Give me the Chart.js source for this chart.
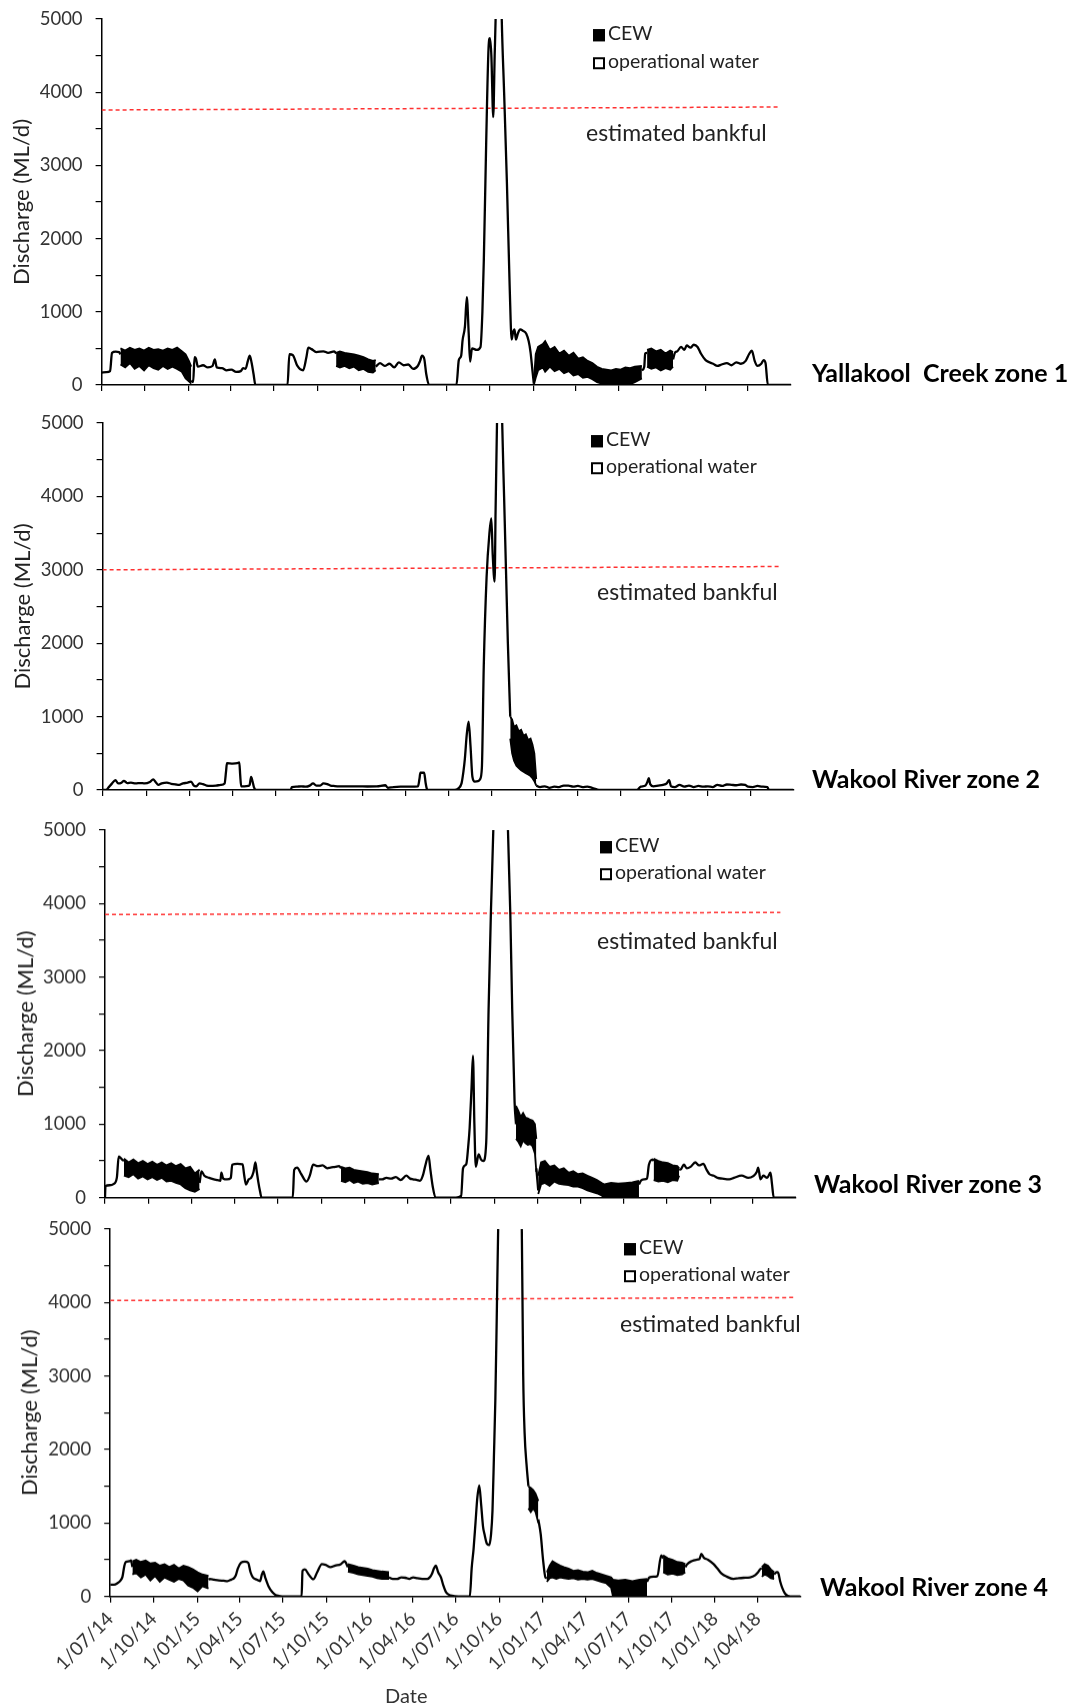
<!DOCTYPE html>
<html>
<head>
<meta charset="utf-8">
<script src="https://cdn.jsdelivr.net/npm/chart.js@4.4.1/dist/chart.umd.min.js"></script>
<style>
  html, body { margin: 0; padding: 0; background: #fff; }
  body { width: 1071px; height: 1706px; position: relative; overflow: hidden; font-family: Lato, 'Open Sans', sans-serif; color: #222; }
  .panel { position: absolute; left: 0; width: 1071px; }
  .txt { position: absolute; white-space: pre; line-height: 1; transform: translateY(-50%); }
  .zone { font-weight: bold; font-size: 25px; color: #000; }
  .bank { font-size: 23px; }
  .leg { font-size: 19.5px; }
  .date { font-size: 20px; color: #333; }
  .sq { display: inline-block; width: 12px; height: 12px; box-sizing: border-box; border: 2px solid #000; margin-right: 3px; vertical-align: -1px; }
  .sq.fill { background: #000; }
</style>
</head>
<body>
<script>
// x axis: days since 1/07/14, major tick every quarter
const quarterDays = [0, 92, 184, 274, 365, 457, 549, 640, 731, 823, 915, 1005, 1096, 1188, 1280, 1370];
const quarterLabels = ['1/07/14', '1/10/14', '1/01/15', '1/04/15', '1/07/15', '1/10/15', '1/01/16', '1/04/16',
  '1/07/16', '1/10/16', '1/01/17', '1/04/17', '1/07/17', '1/10/17', '1/01/18', '1/04/18'];
const zoneNames = ['Yallakool  Creek zone 1', 'Wakool River zone 2', 'Wakool River zone 3', 'Wakool River zone 4'];

// discharge line [day, ML/d]; null = inside a CEW band (drawn by the band)
const zone1Flow = [[0,170],[10,175],[18,190],[22,440],[30,455],[37,450],[40,420],[115,null],[190,60],[194,40],[197,380],[200,360],[204,250],[215,270],[225,240],[235,260],[240,350],[244,240],[255,230],[265,200],[275,210],[285,180],[295,190],[300,230],[305,220],[310,330],[314,400],[318,300],[322,150],[326,0],[394,0],[398,420],[405,410],[415,260],[427,200],[434,380],[438,510],[445,490],[455,450],[470,460],[480,440],[493,460],[497,430],[540,null],[581,250],[590,300],[600,260],[610,290],[620,240],[630,310],[640,270],[650,280],[660,220],[670,260],[675,330],[679,400],[684,350],[688,150],[694,0],[752,0],[757,340],[762,400],[765,610],[770,800],[774,1200],[778,700],[781,320],[785,500],[795,480],[803,520],[807,1000],[810,1700],[815,3300],[820,4600],[823,4740],[826,4500],[830,3660],[833,4500],[835,5000],[841,7500],[848,5000],[853,4000],[859,2750],[865,1300],[869,620],[872,720],[875,760],[878,620],[882,700],[887,760],[893,740],[900,700],[905,600],[909,450],[913,200],[916,20],[1030,null],[1145,200],[1150,250],[1152,430],[1156,440],[1185,null],[1211,350],[1215,440],[1220,460],[1228,520],[1235,480],[1240,540],[1248,510],[1255,550],[1263,520],[1270,430],[1280,340],[1288,310],[1296,290],[1305,260],[1314,280],[1325,300],[1335,270],[1345,310],[1355,290],[1365,330],[1372,420],[1378,470],[1384,330],[1390,260],[1398,290],[1403,340],[1407,300],[1412,0],[1461,0]];
const zone2Flow = [[0,0],[8,0],[12,30],[20,90],[27,135],[33,90],[40,100],[45,125],[52,95],[60,100],[70,90],[80,95],[89,90],[100,110],[107,145],[112,110],[118,70],[125,90],[136,100],[145,85],[155,75],[162,70],[170,90],[180,100],[187,115],[193,60],[198,50],[205,90],[212,80],[220,60],[227,55],[240,60],[250,70],[258,90],[261,250],[263,365],[275,360],[285,365],[289,375],[291,200],[293,50],[300,50],[308,55],[311,70],[314,180],[317,120],[320,40],[325,0],[398,0],[400,40],[410,45],[420,50],[430,45],[438,60],[445,90],[452,60],[460,60],[467,90],[475,80],[482,60],[489,55],[500,50],[520,50],[540,50],[560,48],[580,50],[598,65],[603,30],[615,40],[630,45],[650,45],[667,50],[670,150],[672,235],[680,235],[683,100],[686,10],[689,0],[744,0],[752,20],[759,90],[763,250],[766,420],[770,750],[774,930],[778,600],[782,180],[787,115],[794,120],[798,145],[802,300],[806,1680],[812,2900],[818,3500],[822,3700],[825,3200],[829,2840],[831,3800],[834,5000],[840,7000],[845,5000],[849,4000],[853,3000],[857,2000],[862,1000],[890,null],[917,60],[925,40],[935,50],[945,30],[955,45],[965,40],[975,60],[985,60],[995,45],[1005,55],[1015,40],[1025,45],[1035,30],[1045,10],[1050,0],[1130,0],[1138,45],[1148,60],[1152,110],[1155,160],[1158,80],[1165,50],[1175,60],[1185,70],[1193,90],[1198,135],[1202,50],[1210,40],[1220,70],[1230,45],[1240,60],[1250,40],[1260,55],[1270,45],[1280,50],[1290,40],[1300,70],[1310,55],[1320,75],[1330,70],[1340,65],[1350,75],[1359,70],[1365,45],[1375,40],[1385,55],[1395,45],[1406,40],[1409,0],[1461,0]];
const zone3Flow = [[0,0],[1,160],[10,170],[18,185],[25,270],[29,560],[33,540],[36,520],[40,500],[120,null],[200,200],[204,360],[210,300],[220,270],[230,250],[238,240],[244,230],[246,340],[250,260],[258,250],[266,270],[269,450],[280,460],[291,455],[294,320],[298,180],[304,250],[309,270],[314,350],[318,480],[321,350],[324,220],[328,80],[331,0],[397,0],[400,380],[406,410],[415,320],[426,220],[433,300],[440,450],[450,430],[460,440],[470,400],[477,410],[487,420],[495,430],[499,400],[540,null],[579,250],[586,250],[595,270],[605,260],[615,280],[625,240],[637,300],[645,260],[651,250],[660,240],[666,230],[672,300],[677,430],[684,570],[688,380],[693,150],[699,0],[742,0],[753,25],[757,400],[764,460],[768,700],[771,950],[775,1500],[778,1930],[781,1000],[784,420],[790,590],[795,520],[800,500],[806,750],[811,2550],[816,3900],[821,5000],[830,8000],[843,8000],[852,5000],[857,3850],[861,2550],[866,1300],[869,1000],[890,null],[912,400],[916,100],[1000,null],[1129,180],[1133,230],[1140,250],[1146,260],[1150,450],[1158,520],[1160,500],[1190,null],[1214,380],[1218,390],[1224,450],[1230,400],[1238,420],[1248,480],[1256,440],[1265,460],[1272,380],[1278,320],[1287,300],[1295,270],[1305,260],[1320,250],[1330,270],[1346,300],[1360,270],[1370,290],[1378,350],[1381,410],[1386,250],[1392,300],[1400,270],[1407,340],[1410,200],[1414,0],[1461,0]];
const zone4Flow = [[0,160],[8,160],[15,180],[22,220],[26,270],[30,420],[33,470],[40,480],[44,490],[47,400],[130,null],[208,230],[211,240],[220,230],[230,220],[240,215],[248,210],[256,230],[262,250],[266,290],[270,380],[277,460],[285,475],[292,460],[297,330],[302,260],[310,230],[317,210],[321,300],[324,340],[328,260],[335,140],[343,60],[350,20],[357,8],[370,0],[405,0],[407,350],[412,370],[420,300],[430,235],[438,330],[448,440],[456,430],[466,400],[476,420],[488,440],[496,480],[503,400],[550,null],[590,260],[598,240],[607,240],[616,260],[625,255],[633,240],[641,260],[650,250],[660,240],[671,240],[676,260],[681,310],[685,380],[689,420],[694,330],[700,260],[705,150],[711,55],[720,15],[729,5],[745,0],[761,0],[765,390],[769,650],[773,1000],[777,1350],[781,1510],[785,1250],[789,950],[792,850],[797,720],[802,700],[806,850],[809,1170],[812,1900],[815,2670],[818,3800],[821,5000],[846,9000],[871,5000],[874,3000],[877,2220],[881,1800],[885,1500],[895,null],[906,1050],[911,850],[916,500],[921,260],[924,250],[1000,null],[1136,200],[1141,260],[1150,270],[1158,280],[1166,560],[1170,520],[1195,null],[1217,400],[1221,440],[1230,480],[1240,500],[1247,510],[1251,580],[1256,530],[1265,500],[1277,440],[1285,380],[1294,310],[1305,270],[1319,240],[1330,250],[1340,255],[1354,260],[1365,290],[1371,330],[1377,380],[1379,380],[1392,null],[1405,300],[1410,330],[1413,330],[1418,200],[1422,120],[1428,40],[1434,10],[1445,0],[1461,0]];

// CEW delivery periods: daily fluctuation envelope [day, high, low]
const zone1Cew = [
  [[40,500,280],[50,470,240],[60,510,300],[70,480,220],[80,500,260],[90,470,200],[100,510,270],[110,480,230],[120,490,210],[130,470,260],[140,500,220],[150,480,250],[160,510,220],[170,460,180],[178,420,90],[185,330,50],[190,250,20]],
  [[497,440,260],[505,460,240],[515,440,260],[525,430,230],[535,420,250],[545,400,200],[555,380,220],[565,350,180],[575,330,170],[581,340,200]],
  [[916,40,0],[920,420,100],[925,520,200],[935,560,240],[940,600,180],[950,480,250],[960,520,190],[970,430,220],[980,470,160],[990,400,190],[1000,440,130],[1010,360,150],[1020,380,100],[1030,330,110],[1040,300,80],[1050,250,40],[1060,220,20],[1070,210,0],[1080,200,0],[1090,220,0],[1100,210,0],[1110,240,0],[1120,230,10],[1130,250,40],[1145,260,90]],
  [[1156,480,250],[1165,500,220],[1175,460,240],[1185,480,200],[1195,430,230],[1205,470,210],[1211,450,250]]
];
const zone2Cew = [
  [[862,1000,700],[866,960,500],[870,860,400],[875,880,330],[880,800,300],[885,820,270],[890,740,250],[895,760,230],[900,680,210],[905,700,190],[909,620,160],[913,500,120],[917,150,60]]
];
const zone3Cew = [
  [[40,530,300],[50,480,280],[60,520,320],[70,470,260],[80,500,290],[90,460,250],[100,490,280],[110,450,240],[120,480,270],[130,440,220],[140,470,230],[150,430,200],[160,460,180],[170,400,130],[180,420,100],[190,330,80],[200,380,120]],
  [[499,420,230],[508,400,210],[517,410,240],[526,380,200],[535,370,220],[545,360,190],[555,350,200],[565,330,180],[579,320,200]],
  [[869,1250,800],[874,1180,760],[879,1100,700],[884,1150,780],[889,1090,740],[894,1080,720],[899,1060,730],[904,1050,700],[909,1000,600],[912,800,350]],
  [[916,300,50],[922,480,180],[930,500,200],[940,420,160],[950,440,220],[960,380,190],[970,400,180],[980,340,170],[990,360,150],[1000,320,150],[1010,330,130],[1020,300,100],[1030,270,80],[1040,240,60],[1050,200,30],[1056,180,0],[1070,200,0],[1085,190,0],[1100,200,0],[1115,210,0],[1129,230,0]],
  [[1160,530,240],[1170,500,220],[1180,480,230],[1190,470,210],[1200,440,240],[1210,430,230],[1214,400,300]]
];
const zone4Cew = [
  [[47,480,300],[55,500,320],[65,470,260],[75,490,300],[85,450,220],[95,460,280],[105,420,200],[115,440,260],[125,400,230],[135,430,200],[145,380,240],[155,420,220],[165,400,150],[175,370,120],[185,330,70],[195,300,140],[208,280,110]],
  [[503,440,340],[515,420,320],[525,400,300],[535,390,290],[545,380,280],[555,360,270],[565,350,250],[575,340,240],[590,330,240]],
  [[885,1500,1200],[890,1480,1150],[895,1450,1200],[900,1400,1150],[906,1300,1000]],
  [[924,330,200],[930,420,250],[936,480,260],[944,450,240],[952,420,260],[960,400,250],[970,380,240],[980,350,250],[990,360,230],[1000,340,240],[1010,330,230],[1020,350,240],[1030,320,220],[1040,300,200],[1050,280,180],[1060,260,120],[1064,230,0],[1075,220,0],[1090,230,0],[1105,210,0],[1120,230,0],[1136,240,0]],
  [[1170,560,330],[1180,520,300],[1190,500,310],[1200,470,290],[1210,460,300],[1217,440,330]],
  [[1379,400,270],[1385,440,300],[1392,420,280],[1398,370,250],[1405,330,240]]
];

// estimated bankful (slightly sloping dashed line) [day, ML/d]
const zone1Bankful = [[0,3757],[1437,3798]];
const zone2Bankful = [[0,3000],[1434,3045]];
const zone3Bankful = [[0,3850],[1428,3880]];
const zone4Bankful = [[0,4027],[1447,4068]];

const FONT = 'Lato';

// plot-area boxes in page pixels and annotation anchors
const panels = [
  { flow: zone1Flow, cew: zone1Cew, bank: zone1Bankful, top: 19, bottom: 385, left: 101.6, right: 791, titlePad: 9, labels: false,
    zone: [812, 372], leg: [593, 33, 61], bankTxt: [586, 132] },
  { flow: zone2Flow, cew: zone2Cew, bank: zone2Bankful, top: 423, bottom: 790, left: 102.6, right: 793.5, titlePad: 9.5, labels: false,
    zone: [812, 778], leg: [591, 439, 466], bankTxt: [597, 591] },
  { flow: zone3Flow, cew: zone3Cew, bank: zone3Bankful, top: 830, bottom: 1196.7, left: 105, right: 796, titlePad: 13, labels: false,
    zone: [814, 1183], leg: [600, 845, 872], bankTxt: [597, 940] },
  { flow: zone4Flow, cew: zone4Cew, bank: zone4Bankful, top: 1229, bottom: 1595.7, left: 110.2, right: 800.6, titlePad: 17, labels: true,
    zone: [820, 1586], leg: [624, 1247, 1274], bankTxt: [620, 1323] }
];

function addText(cls, x, y, html) {
  const d = document.createElement('div');
  d.className = 'txt ' + cls;
  d.style.left = x + 'px';
  d.style.top = y + 'px';
  d.innerHTML = html;
  document.body.appendChild(d);
}

function makePanel(p, i) {
  const padTop = 12;
  const xh = p.labels ? 100 : 14;
  const wrap = document.createElement('div');
  wrap.className = 'panel';
  wrap.style.top = (p.top - padTop) + 'px';
  wrap.style.height = (p.bottom - p.top + padTop + xh) + 'px';
  const canvas = document.createElement('canvas');
  wrap.appendChild(canvas);
  document.body.appendChild(wrap);

  const datasets = [];
  datasets.push({
    label: 'estimated bankful',
    data: p.bank.map(b => ({ x: b[0], y: b[1] })),
    borderColor: '#ff3030', borderWidth: 1.5, borderDash: [4, 3],
    pointRadius: 0, fill: false, order: 5
  });
  p.cew.forEach(seg => {
    datasets.push({
      label: 'CEW',
      data: seg.map(s => ({ x: s[0], y: s[1] })),
      borderColor: '#000', borderWidth: 1.8, backgroundColor: '#000',
      pointRadius: 0, fill: '+1', order: 2
    });
    datasets.push({
      label: 'CEW low',
      data: seg.map(s => ({ x: s[0], y: s[2] })),
      borderColor: '#000', borderWidth: 1.8,
      pointRadius: 0, fill: false, order: 2
    });
  });
  datasets.push({
    label: 'operational water',
    data: p.flow.map(f => ({ x: f[0], y: f[1] })),
    borderColor: '#000', borderWidth: 2.3, cubicInterpolationMode: 'monotone',
    pointRadius: 0, fill: false, spanGaps: false, order: 1
  });

  new Chart(canvas, {
    type: 'line',
    data: { datasets },
    options: {
      responsive: true,
      maintainAspectRatio: false,
      animation: false,
      layout: { padding: { top: padTop, right: 1071 - p.right, left: 0, bottom: 0 } },
      plugins: { legend: { display: false }, tooltip: { enabled: false } },
      scales: {
        x: {
          type: 'linear', min: 0, max: 1461,
          afterBuildTicks: s => { s.ticks = quarterDays.map(v => ({ value: v })); },
          afterFit: s => { s.height = xh; s.paddingLeft = 0; s.paddingRight = 0; },
          grid: { drawOnChartArea: false, drawTicks: true, tickLength: 6, color: '#000', lineWidth: 1.2 },
          border: { display: true, color: '#000', width: 1.5 },
          ticks: {
            display: p.labels, autoSkip: false, minRotation: 45, maxRotation: 45, padding: 5,
            font: { family: FONT, size: 19 }, color: '#333',
            callback: (v, idx) => quarterLabels[idx]
          }
        },
        y: {
          min: 0, max: 5000,
          afterFit: s => { s.width = p.left; s.paddingTop = 0; s.paddingBottom = 0; },
          grid: { drawOnChartArea: false, drawTicks: true, tickLength: 6, color: '#000', lineWidth: 1.2 },
          border: { display: true, color: '#000', width: 1.5 },
          ticks: {
            stepSize: 500, autoSkip: false, padding: 13,
            font: { family: FONT, size: 18.5 }, color: '#333',
            callback: v => (v % 1000 === 0 ? String(v) : '')
          },
          title: {
            display: true, text: 'Discharge (ML/d)', color: '#222',
            font: { family: FONT, size: 22 }, padding: { top: p.titlePad, bottom: 0 }
          }
        }
      }
    }
  });

  addText('zone', p.zone[0], p.zone[1], zoneNames[i]);
  addText('leg', p.leg[0], p.leg[1], '<span class="sq fill"></span>CEW');
  addText('leg', p.leg[0], p.leg[2], '<span class="sq"></span>operational water');
  addText('bank', p.bankTxt[0], p.bankTxt[1], 'estimated bankful');
}

panels.forEach(makePanel);
addText('date', 385, 1695, 'Date');
</script>
</body>
</html>
